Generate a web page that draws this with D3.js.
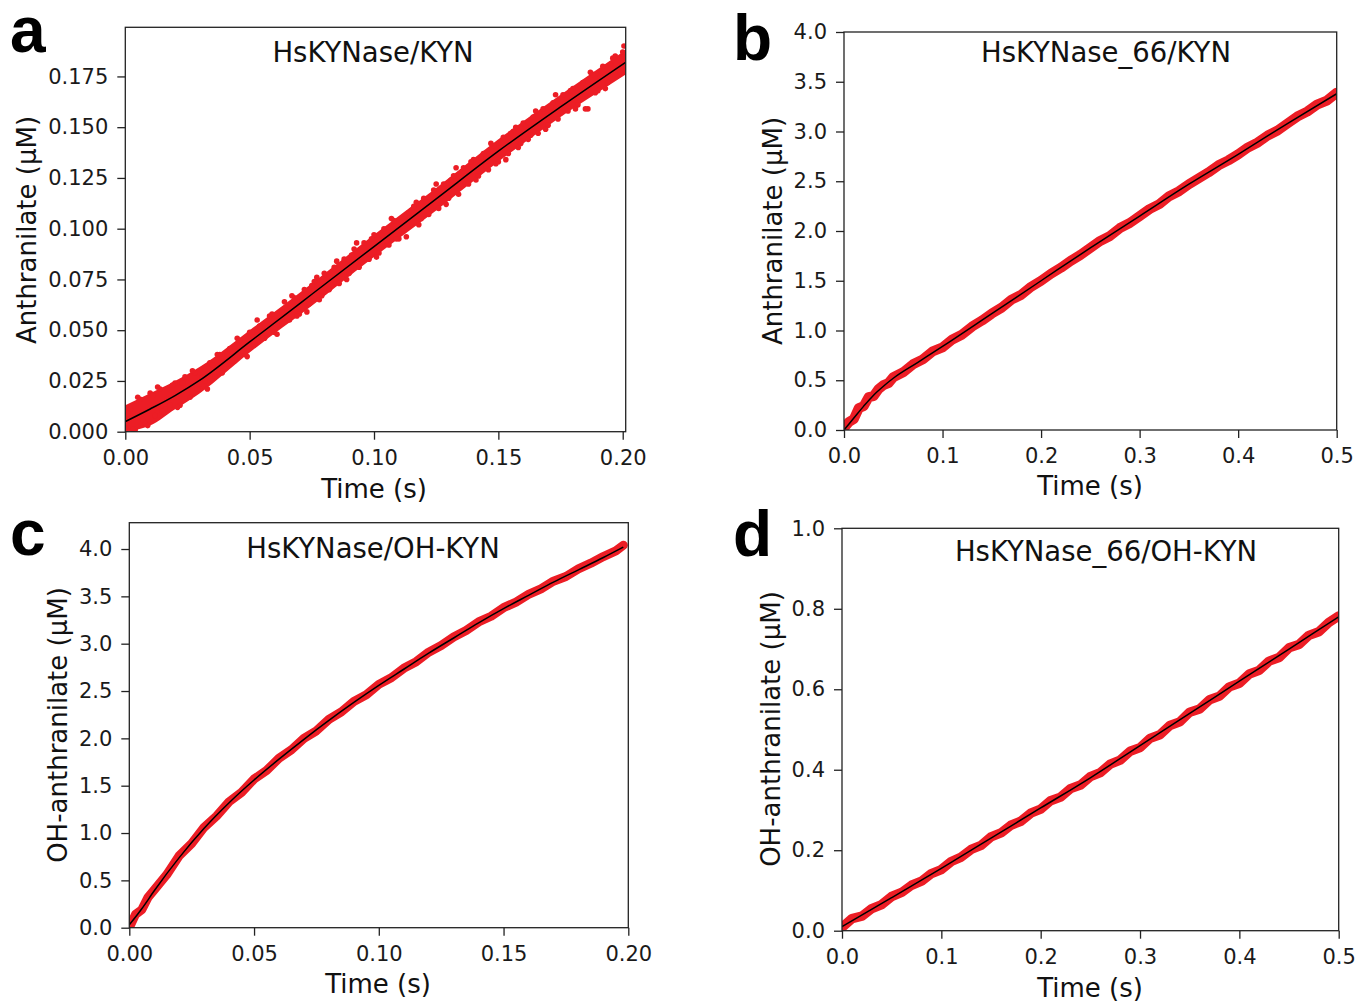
<!DOCTYPE html>
<html><head><meta charset="utf-8">
<script src="https://cdn.jsdelivr.net/npm/d3@7"></script>
<style>body{margin:0;background:#fff}</style></head>
<body>
<svg id="fig" width="1357" height="1002"></svg>
<script>
// ---------- Panel a: HsKYNase/KYN ----------
const aT = [0.000,0.002,0.004,0.006,0.008,0.010,0.012,0.014,0.016,0.018,
0.020,0.022,0.024,0.026,0.028,0.030,0.032,0.034,0.036,0.038,
0.040,0.042,0.044,0.046,0.048,0.050,0.052,0.054,0.056,0.058,
0.060,0.062,0.064,0.066,0.068,0.070,0.072,0.074,0.076,0.078,
0.080,0.082,0.084,0.086,0.088,0.090,0.092,0.094,0.096,0.098,
0.100,0.102,0.104,0.106,0.108,0.110,0.112,0.114,0.116,0.118,
0.120,0.122,0.124,0.126,0.128,0.130,0.132,0.134,0.136,0.138,
0.140,0.142,0.144,0.146,0.148,0.150,0.152,0.154,0.156,0.158,
0.160,0.162,0.164,0.166,0.168,0.170,0.172,0.174,0.176,0.178,
0.180,0.182,0.184,0.186,0.188,0.190,0.192,0.194,0.196,0.198,0.200];
const aY = [0.002,0.011,0.001,0.016,0.004,0.019,0.008,0.021,0.011,0.013,
0.024,0.013,0.027,0.017,0.029,0.021,0.025,0.034,0.027,0.038,
0.031,0.041,0.035,0.045,0.038,0.049,0.043,0.052,0.046,0.057,
0.049,0.055,0.064,0.055,0.066,0.058,0.070,0.063,0.074,0.065,
0.078,0.070,0.081,0.073,0.085,0.078,0.090,0.081,0.093,0.085,
0.097,0.088,0.100,0.092,0.104,0.095,0.099,0.108,0.111,0.102,
0.115,0.107,0.119,0.110,0.122,0.115,0.126,0.117,0.130,0.122,
0.134,0.126,0.137,0.129,0.141,0.133,0.145,0.137,0.148,0.140,
0.152,0.144,0.155,0.147,0.159,0.151,0.162,0.154,0.166,0.158,
0.169,0.161,0.172,0.159,0.176,0.168,0.180,0.172,0.184,0.176,0.187];
const aT2 = [0.001,0.003,0.005,0.007,0.009,0.011,0.013,0.015,0.017,0.019,
0.021,0.023,0.025,0.027,0.029,0.031,0.033,0.035,0.037,0.039,
0.041,0.043,0.045,0.047,0.049,0.051,0.053,0.055,0.057,0.059,
0.061,0.063,0.065,0.067,0.069,0.071,0.073,0.075,0.077,0.079,
0.081,0.083,0.085,0.087,0.089,0.091,0.093,0.095,0.097,0.099,
0.101,0.103,0.105,0.107,0.109,0.111,0.113,0.115,0.117,0.119,
0.121,0.123,0.125,0.127,0.129,0.131,0.133,0.135,0.137,0.139,
0.141,0.143,0.145,0.147,0.149,0.151,0.153,0.155,0.157,0.159,
0.161,0.163,0.165,0.167,0.169,0.171,0.173,0.175,0.177,0.179,
0.181,0.183,0.185,0.187,0.189,0.191,0.193,0.195,0.197,0.199,0.2005];
const aY2 = [0.009,0.001,0.017,0.006,0.003,0.018,0.022,0.010,0.016,0.023,
0.012,0.024,0.019,0.030,0.021,0.027,0.021,0.033,0.038,0.029,
0.038,0.035,0.046,0.040,0.037,0.049,0.055,0.046,0.051,0.058,
0.048,0.059,0.056,0.067,0.057,0.065,0.059,0.072,0.076,0.067,
0.075,0.072,0.084,0.078,0.075,0.087,0.093,0.084,0.088,0.095,
0.086,0.097,0.094,0.105,0.095,0.103,0.096,0.109,0.113,0.105,
0.113,0.110,0.122,0.116,0.112,0.124,0.130,0.121,0.126,0.133,
0.124,0.135,0.131,0.142,0.132,0.140,0.134,0.147,0.150,0.142,
0.150,0.146,0.158,0.152,0.149,0.160,0.166,0.157,0.162,0.168,
0.159,0.170,0.159,0.177,0.167,0.175,0.169,0.181,0.185,0.177,0.190];
const aBandT = [0,0.01,0.02,0.03,0.05,0.075,0.1,0.125,0.15,0.175,0.2012];
const aBandLo = [0.000,0.003,0.011,0.019,0.039,0.062,0.086,0.109,0.133,0.155,0.176];
const aBandHi = [0.013,0.019,0.025,0.032,0.050,0.073,0.097,0.120,0.144,0.166,0.188];
const aFitT = [0,0.01,0.02,0.03,0.05,0.075,0.1,0.125,0.15,0.175,0.2012];
const aFitY = [0.005,0.0112,0.0178,0.0254,0.0442,0.0677,0.0912,0.1147,0.1382,0.1600,0.1820];
const aXTicks = [0,0.05,0.10,0.15,0.20];
const aYTicks = [0,0.025,0.05,0.075,0.1,0.125,0.15,0.175];

// ---------- Panel b: HsKYNase_66/KYN ----------
const bT = [0,0.005,0.01,0.015,0.02,0.025,0.03,0.035,0.04,0.045,0.05,
0.06,0.07,0.08,0.09,0.10,0.11,0.12,0.13,0.14,0.15,0.16,0.17,0.18,0.19,0.20,
0.21,0.22,0.23,0.24,0.25,0.26,0.27,0.28,0.29,0.30,0.31,0.32,0.33,0.34,0.35,
0.36,0.37,0.38,0.39,0.40,0.41,0.42,0.43,0.44,0.45,0.46,0.47,0.48,0.49,0.50];
const bY = [0.02,0.08,0.11,0.22,0.24,0.33,0.34,0.41,0.45,0.47,0.53,
0.58,0.66,0.71,0.79,0.83,0.91,0.96,1.04,1.10,1.17,1.23,1.31,1.36,1.44,1.50,
1.57,1.63,1.70,1.76,1.83,1.90,1.95,2.03,2.08,2.15,2.22,2.27,2.35,2.40,2.47,
2.53,2.59,2.66,2.71,2.77,2.84,2.89,2.96,3.01,3.08,3.15,3.20,3.27,3.31,3.39];
const bFitT = [0,0.01,0.02,0.03,0.04,0.05,0.075,0.1,0.15,0.2,0.25,0.3,0.35,0.4,0.45,0.5];
const bFitY = [0,0.12,0.24,0.35,0.44,0.52,0.68,0.84,1.17,1.5,1.83,2.15,2.47,2.77,3.08,3.38];
const bXTicks = [0,0.1,0.2,0.3,0.4,0.5];
const bYTicks = [0,0.5,1,1.5,2,2.5,3,3.5,4];

// ---------- Panel c: HsKYNase/OH-KYN ----------
const cT = [0,0.0025,0.005,0.0075,0.010,0.015,0.020,0.025,0.030,0.035,0.040,0.045,
0.050,0.055,0.060,0.065,0.070,0.075,0.080,0.085,0.090,0.095,0.100,0.105,0.110,
0.115,0.120,0.125,0.130,0.135,0.140,0.145,0.150,0.155,0.160,0.165,0.170,0.175,
0.180,0.185,0.190,0.195,0.198];
const cY = [0.00,0.14,0.19,0.32,0.40,0.56,0.76,0.89,1.06,1.18,1.33,1.43,
1.57,1.66,1.79,1.88,2.00,2.08,2.20,2.28,2.39,2.46,2.57,2.64,2.74,
2.81,2.91,2.98,3.07,3.14,3.23,3.29,3.38,3.44,3.52,3.58,3.66,3.71,
3.79,3.85,3.92,3.98,4.04];
const cFitT = [0,0.005,0.01,0.02,0.03,0.04,0.05,0.06,0.07,0.08,0.09,0.1,0.11,0.12,0.13,0.14,0.15,0.16,0.17,0.18,0.19,0.198];
const cFitY = [0.03,0.2,0.39,0.74,1.05,1.32,1.56,1.78,1.99,2.19,2.38,2.56,2.73,2.9,3.06,3.22,3.37,3.51,3.65,3.78,3.91,4.02];
const cXTicks = [0,0.05,0.10,0.15,0.20];
const cYTicks = [0,0.5,1,1.5,2,2.5,3,3.5,4];

// ---------- Panel d: HsKYNase_66/OH-KYN ----------
const dT = [0,0.01,0.02,0.03,0.04,0.05,0.06,0.07,0.08,0.09,0.10,0.11,0.12,0.13,0.14,0.15,
0.16,0.17,0.18,0.19,0.20,0.21,0.22,0.23,0.24,0.25,0.26,0.27,0.28,0.29,0.30,0.31,0.32,
0.33,0.34,0.35,0.36,0.37,0.38,0.39,0.40,0.41,0.42,0.43,0.44,0.45,0.46,0.47,0.48,0.49,0.50];
const dY = [0.008,0.030,0.036,0.055,0.065,0.085,0.095,0.113,0.123,0.142,0.152,0.172,0.183,0.202,0.212,0.233,
0.243,0.262,0.272,0.292,0.302,0.323,0.332,0.353,0.362,0.383,0.393,0.414,0.424,0.446,0.455,0.478,0.487,
0.510,0.519,0.543,0.551,0.574,0.583,0.606,0.615,0.638,0.647,0.670,0.679,0.703,0.711,0.734,0.743,0.766,0.782];
const dFitT = [0,0.05,0.1,0.15,0.2,0.25,0.3,0.35,0.4,0.45,0.5];
const dFitY = [0.01,0.082,0.155,0.23,0.305,0.38,0.46,0.54,0.62,0.70,0.78];
const dXTicks = [0,0.1,0.2,0.3,0.4,0.5];
const dYTicks = [0,0.2,0.4,0.6,0.8,1.0];

const RED = "#ec1d25";
const svg = d3.select("#fig");

const panels = [
 {key:"a", letter:"a", title:"HsKYNase/KYN", ylabel:"Anthranilate (\u03bcM)",
  T:aT, Y:aY, T2:aT2, Y2:aY2, BT:aBandT, BL:aBandLo, BH:aBandHi,
  FT:aFitT, FY:aFitY, xt:aXTicks, yt:aYTicks, xf:".2f", yf:".3f",
  xd:[0,0.2012], yd:[0,0.1992], box:[125.3,625.7,27.3,431.7], bw:0, r:2.8,
  L:[10,52], TT:[373,62], XL:[374,498], YL:[36,230]},
 {key:"b", letter:"b", title:"HsKYNase_66/KYN", ylabel:"Anthranilate (\u03bcM)",
  T:bT, Y:bY, FT:bFitT, FY:bFitY, xt:bXTicks, yt:bYTicks, xf:".1f", yf:".1f",
  xd:[0,0.5], yd:[0,4], box:[844,1336.7,32,430], bw:10, r:0,
  L:[733,60], TT:[1106,62], XL:[1090,495], YL:[782,231]},
 {key:"c", letter:"c", title:"HsKYNase/OH-KYN", ylabel:"OH-anthranilate (\u03bcM)",
  T:cT, Y:cY, FT:cFitT, FY:cFitY, xt:cXTicks, yt:cYTicks, xf:".2f", yf:".1f",
  xd:[0,0.2], yd:[0,4.278], box:[129.3,628.3,522.7,927.7], bw:9, r:0,
  L:[10,555], TT:[373,558], XL:[378,993], YL:[67,725]},
 {key:"d", letter:"d", title:"HsKYNase_66/OH-KYN", ylabel:"OH-anthranilate (\u03bcM)",
  T:dT, Y:dY, FT:dFitT, FY:dFitY, xt:dXTicks, yt:dYTicks, xf:".1f", yf:".1f",
  xd:[0,0.5], yd:[0,1], box:[842,1338.7,528.3,930.7], bw:9.5, r:0,
  L:[733,556], TT:[1106,561], XL:[1090,997], YL:[780,729]}
];

panels.forEach(p => {
  const [x0,x1,y0,y1] = p.box;
  const x = d3.scaleLinear().domain(p.xd).range([x0,x1]);
  const y = d3.scaleLinear().domain(p.yd).range([y1,y0]);
  const clipId = "clip-" + p.key;
  svg.append("clipPath").attr("id", clipId).append("rect")
    .attr("x", x0).attr("y", y0).attr("width", x1-x0).attr("height", y1-y0);

  const g = svg.append("g").attr("clip-path", `url(#${clipId})`);
  if (p.BT) {
    const band = p.BT.map((t,i) => [t, p.BL[i], p.BH[i]]);
    g.append("path").attr("fill", RED)
      .attr("d", d3.area().curve(d3.curveMonotoneX).x(d => x(d[0])).y0(d => y(d[1])).y1(d => y(d[2]))(band));
  }
  const pts = p.T.map((t,i) => [t, p.Y[i]]);
  if (p.T2) p.T2.forEach((t,i) => pts.push([t, p.Y2[i]]));
  if (p.bw > 0) {
    const line = d3.line().x(d => x(d[0])).y(d => y(d[1]));
    g.append("path").attr("d", line(pts)).attr("fill","none")
      .attr("stroke", RED).attr("stroke-width", p.bw)
      .attr("stroke-linejoin","round").attr("stroke-linecap","round");
  }
  if (p.r > 0) {
    g.selectAll("circle").data(pts).join("circle")
      .attr("cx", d => x(d[0])).attr("cy", d => y(d[1])).attr("r", p.r).attr("fill", RED);
  }
  const fit = p.FT.map((t,i) => [t, p.FY[i]]);
  g.append("path").attr("d", d3.line().curve(d3.curveMonotoneX).x(d => x(d[0])).y(d => y(d[1]))(fit))
    .attr("fill","none").attr("stroke","#000").attr("stroke-width",1.5);

  // axes
  const xa = svg.append("g").attr("transform", `translate(0,${y1})`)
    .call(d3.axisBottom(x).tickValues(p.xt).tickFormat(d3.format(p.xf)).tickSize(8).tickSizeOuter(0).tickPadding(10.5));
  const ya = svg.append("g").attr("transform", `translate(${x0},0)`)
    .call(d3.axisLeft(y).tickValues(p.yt).tickFormat(d3.format(p.yf)).tickSize(8).tickSizeOuter(0).tickPadding(9));
  [xa, ya].forEach(a => {
    a.selectAll("text").attr("font-family","DejaVu Sans").attr("font-size","21px").attr("fill","#1a1a1a");
    a.selectAll("line").attr("stroke","#222").attr("stroke-width",1.3);
    a.select(".domain").remove();
  });
  svg.append("rect").attr("x", x0).attr("y", y0).attr("width", x1-x0).attr("height", y1-y0)
    .attr("fill","none").attr("stroke","#222").attr("stroke-width",1.3);

  // texts
  svg.append("text").attr("x", p.TT[0]).attr("y", p.TT[1]).attr("text-anchor","middle")
    .attr("font-family","DejaVu Sans").attr("font-size","27.5px").attr("fill","#111").text(p.title);
  svg.append("text").attr("x", p.XL[0]).attr("y", p.XL[1]).attr("text-anchor","middle")
    .attr("font-family","DejaVu Sans").attr("font-size","26px").attr("fill","#111").text("Time (s)");
  svg.append("text").attr("transform", `translate(${p.YL[0]},${p.YL[1]}) rotate(-90)`)
    .attr("text-anchor","middle").attr("font-family","DejaVu Sans").attr("font-size","26px")
    .attr("fill","#111").text(p.ylabel);
  svg.append("text").attr("x", p.L[0]).attr("y", p.L[1])
    .attr("font-family","Liberation Sans, Arial, sans-serif").attr("font-weight","bold")
    .attr("font-size","64px").attr("fill","#000").text(p.letter);
});
</script>
</body></html>
